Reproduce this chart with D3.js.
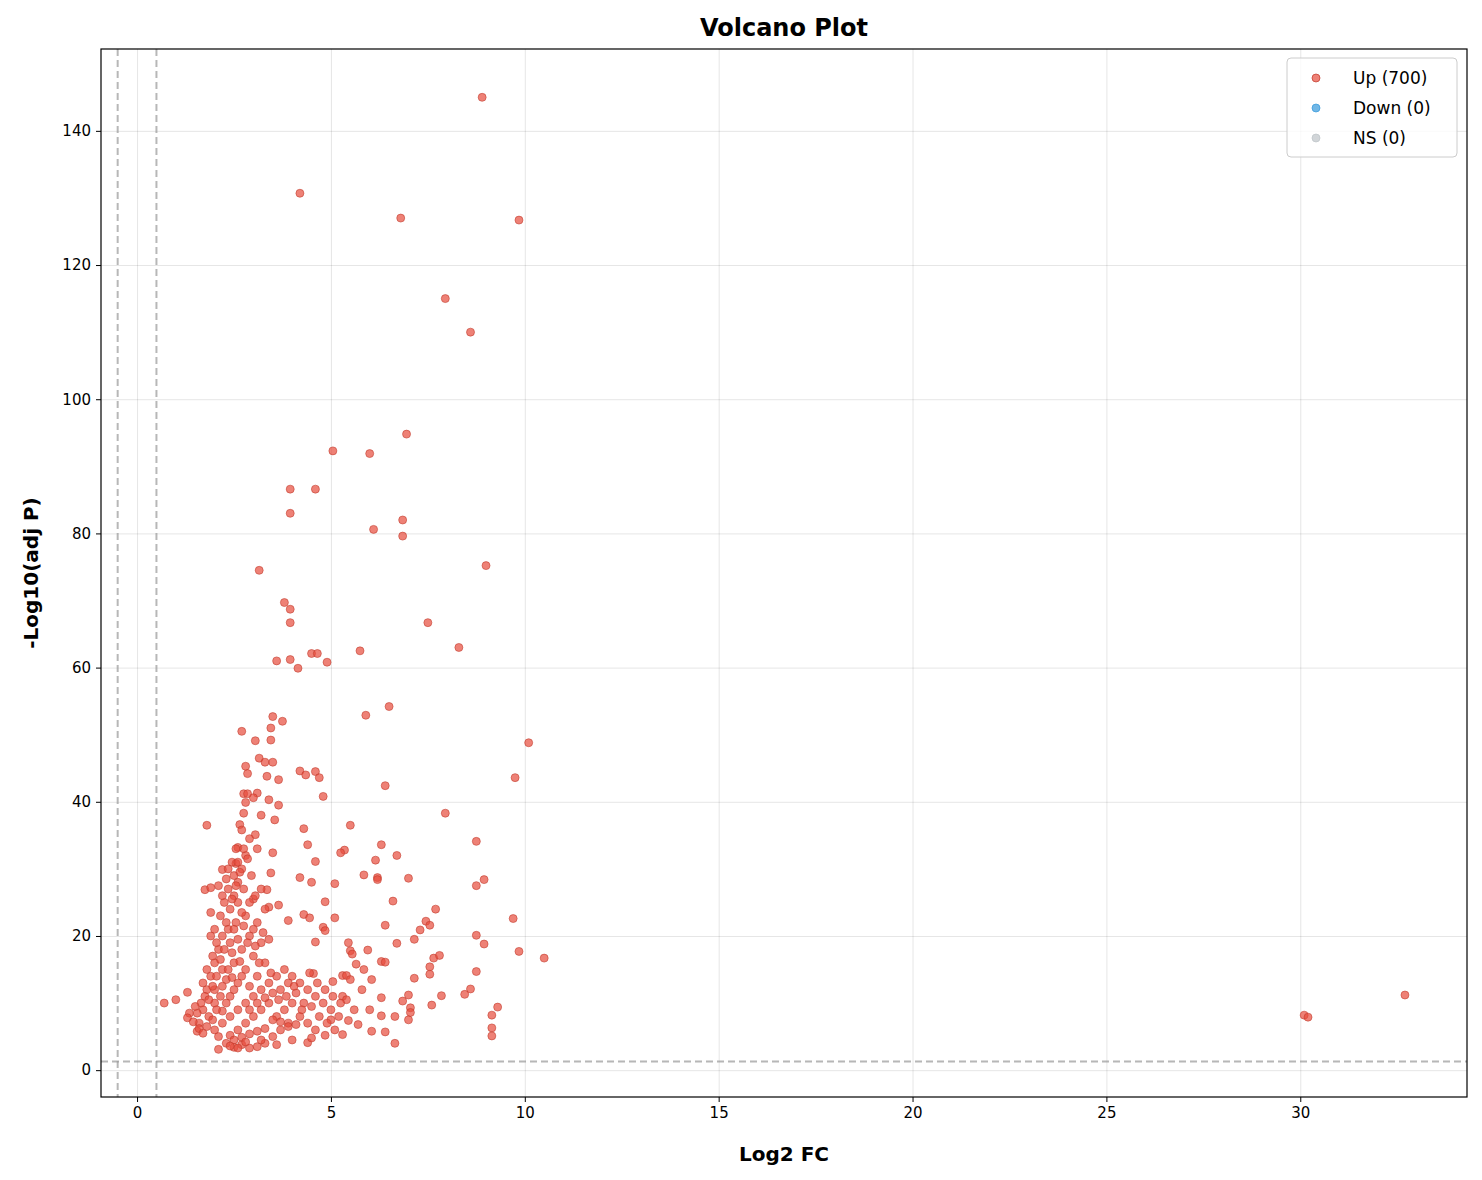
<!DOCTYPE html>
<html>
<head>
<meta charset="utf-8">
<script src="https://cdn.jsdelivr.net/npm/d3@7"></script>
<style>
  body { margin: 0; background: #fff; font-family: "DejaVu Sans", sans-serif; }
</style>
</head>
<body>
<svg id="chart" width="1482" height="1180"></svg>
<script>
// Up-regulated points: [log2FC, -log10(adj P)]
const upPoints = [
  [8.9,145],[4.2,130.7],[6.8,127],[9.85,126.7],[7.95,115],[8.6,110],[6.95,94.8],[5.05,92.3],[6.0,91.9],
  [3.95,86.6],[4.6,86.6],[3.95,83],[6.85,82],[6.1,80.6],[6.85,79.6],[9.0,75.2],[3.15,74.5],[3.8,69.7],
  [3.95,68.7],[3.95,66.7],[7.5,66.7],[8.3,63],[5.75,62.5],[4.5,62.1],[4.65,62.1],[3.6,61],[3.95,61.2],
  [4.9,60.8],[4.15,59.9],[6.5,54.2],[5.9,52.9],[3.5,52.7],[3.75,52],[3.45,51],[2.7,50.5],[3.05,49.1],
  [3.45,49.2],[10.1,48.8],[3.15,46.5],[3.3,45.9],[3.5,45.9],[2.8,45.3],[4.2,44.6],[4.6,44.5],[4.35,44],
  [2.85,44.2],[3.35,43.8],[4.7,43.6],[9.75,43.6],[3.65,43.3],[6.4,42.4],[2.75,41.2],[2.85,41.2],[3.1,41.3],
  [4.8,40.8],[3.0,40.6],[3.4,40.3],[2.8,39.9],[3.65,39.5],[2.75,38.3],[7.95,38.3],[3.2,38],[3.55,37.3],
  [1.8,36.5],[5.5,36.5],[2.65,36.6],[2.7,35.8],[4.3,36],[3.05,35.1],[2.9,34.5],[8.75,34.1],[4.4,33.6],
  [6.3,33.6],[2.6,33.2],[3.1,33],[5.35,32.8],[5.25,32.4],[3.5,32.4],[6.7,32],[6.15,31.3],[4.6,31.1],
  [2.55,30.8],[2.2,29.9],[5.85,29.1],[3.45,29.4],[6.2,28.7],[6.2,28.4],[7.0,28.6],[8.95,28.4],[4.2,28.7],
  [4.5,28],[5.1,27.8],[8.75,27.5],[1.75,26.9],[1.9,27.2],[3.35,26.9],[4.85,25.1],[6.6,25.2],[3.0,25.5],
  [7.7,24],[3.65,24.6],[3.4,24.3],[4.3,23.2],[9.7,22.6],[5.1,22.7],[4.45,22.7],[7.45,22.2],[3.9,22.3],
  [7.55,21.6],[6.4,21.6],[7.3,20.9],[4.8,21.3],[4.85,20.8],[8.75,20.1],[4.6,19.1],[5.45,19],[7.15,19.5],
  [6.7,18.9],[8.95,18.8],[5.5,17.8],[5.95,17.9],[9.85,17.7],[10.5,16.7],[5.55,17.3],[7.65,16.7],[7.8,17.1],
  [6.3,16.2],[6.4,16.1],[5.65,15.8],[7.55,15.4],[5.85,15],[8.75,14.7],[7.55,14.3],[4.55,14.4],[5.3,14.1],
  [5.4,14.1],[7.15,13.7],[6.05,13.5],[5.05,13.2],[8.6,12.1],[8.45,11.3],[7.85,11.1],[7.0,11.2],[6.3,10.8],
  [5.3,11],[6.85,10.3],[9.3,9.4],[7.6,9.7],[7.05,9.3],[7.05,8.6],[9.15,8.2],[6.3,8.1],[6.65,8],[7.0,7.5],
  [5.0,7.5],[5.45,7.4],[9.15,6.3],[6.05,5.8],[6.4,5.7],[4.85,5.2],[9.15,5.1],[5.3,5.3],[6.65,4.0],[4.4,4.1],
  [30.1,8.2],[30.2,7.9],[32.7,11.2],[0.7,10],[1.0,10.5],[1.3,11.6],[1.35,8.5],[1.3,7.8],[1.55,5.8],[2.1,3.1],
  [1.6,7],[1.7,9],[1.8,12],[1.9,14],[2.0,16],[1.75,11],[1.85,8],[2.0,10],[2.1,18],[2.2,20],[2.3,22],[2.4,24],
  [2.5,26],[2.6,28],[2.7,30],[2.8,32],[2.45,31],[2.55,33],[2.35,27],[2.25,25],[2.15,23],[2.05,19],[1.95,17],
  [1.9,20],[1.8,15],[1.7,13],[1.65,10],[1.55,8.5],[1.6,6.2],[1.7,5.5],[2.0,6],[2.2,7],[2.4,8],[2.6,9],[2.8,10],
  [3.0,11],[3.2,12],[3.4,13],[3.6,14],[3.8,15],[4.0,14],[4.2,13],[4.4,12],[4.6,11],[4.8,10],[5.0,9],[5.2,8],
  [3.9,7],[3.7,6],[3.5,5],[3.3,4],[3.1,3.5],[2.9,3.3],[2.7,3.8],[2.5,3.4],[2.3,4],[2.4,5.2],[2.6,6],[2.8,7],
  [3.0,8],[3.2,9],[3.4,10],[3.6,8],[3.8,9],[4.0,10],[4.2,8],[4.4,7],[4.6,6],[3.5,7.5],[3.7,7.2],[3.9,6.5],
  [4.1,6.8],[3.3,6.2],[3.1,5.8],[2.9,5.4],[2.7,4.9],[2.5,4.5],[2.2,8.8],[2.4,11],[2.6,13],[2.8,15],[3.0,17],
  [3.2,19],[3.4,19.5],[3.0,21],[2.8,23],[2.6,25],[2.4,19],[2.2,15],[2.0,12],[2.3,13.5],[2.5,16],[2.7,18],
  [2.9,20],[3.1,22],[2.75,27],[2.65,29.5],[2.55,22],[2.45,17.5],[2.35,15],[2.15,11],[2.05,9],[1.95,7.5],
  [1.85,10.5],[2.3,10],[2.5,12],[2.7,14],[2.9,12.5],[3.1,14],[3.3,16],[3.5,11.5],[3.7,12],[3.9,13],[4.1,11.5],
  [4.3,10],[4.5,9.5],[4.7,8],[4.9,7],[5.1,6],[5.4,10.5],[5.6,9],[5.8,12],[6.0,9],[5.7,6.8],[5.5,13.5],[4.0,4.5],
  [4.5,4.8],[3.6,3.8],[3.2,4.5],[2.8,4.2],[2.6,3.3],[2.4,3.6],[2.9,9],[3.1,10],[3.3,10.8],[3.05,26],[2.95,29],
  [2.85,31.5],[2.55,27.5],[2.35,21],[2.25,18],[2.15,16.5],[2.05,14],[1.95,12.5],[2.45,13.8],[2.65,16.2],
  [2.85,19],[3.05,18.5],[3.25,20.5],[3.3,24],[2.3,28.5],[2.0,21],[1.9,23.5],[2.75,21.5],[3.15,16],[3.45,14.5],
  [3.65,10.5],[3.85,11],[4.05,12.5],[4.25,9],[4.45,14.5],[4.65,13],[4.85,12],[5.05,11],[5.25,10],[1.5,9.5],
  [1.45,7.2],[1.8,6.5],[2.1,5],[2.2,12.5],[2.6,19.5],[2.5,21],[2.7,23.5],[2.9,25],[3.2,27],[2.45,25.5],
  [2.35,30],[2.6,31],[2.75,33],[2.5,29],[2.2,26],[2.1,27.5]
];
const downPoints = [];
const nsPoints = [];
const legendLabels = ["Up (700)", "Down (0)", "NS (0)"];
const xTicks = [0, 5, 10, 15, 20, 25, 30];
const yTicks = [0, 20, 40, 60, 80, 100, 120, 140];
const fcCut = 0.5;
const pCut = 1.3;

const svg = d3.select("#chart");
const margin = { top: 49, right: 15, bottom: 83, left: 101 };
const width = 1482, height = 1180;

const x = d3.scaleLinear().domain([-0.93, 34.3]).range([margin.left, width - margin.right]);
const y = d3.scaleLinear().domain([-4.0, 152.2]).range([height - margin.bottom, margin.top]);

// Grid
svg.append("g")
  .attr("transform", `translate(0, ${height - margin.bottom})`)
  .call(d3.axisBottom(x).tickValues(xTicks).tickSize(-(height - margin.top - margin.bottom)).tickFormat(""))
  .call(g => g.select(".domain").remove())
  .selectAll("line").attr("stroke", "#000").attr("stroke-opacity", 0.1);

svg.append("g")
  .attr("transform", `translate(${margin.left}, 0)`)
  .call(d3.axisLeft(y).tickValues(yTicks).tickSize(-(width - margin.left - margin.right)).tickFormat(""))
  .call(g => g.select(".domain").remove())
  .selectAll("line").attr("stroke", "#000").attr("stroke-opacity", 0.1);

// Threshold lines
const thr = svg.append("g").attr("stroke", "#999").attr("stroke-opacity", 0.7)
  .attr("stroke-width", 2).attr("stroke-dasharray", "7,4");
[-fcCut, fcCut].forEach(v => thr.append("line")
  .attr("x1", x(v)).attr("x2", x(v)).attr("y1", margin.top).attr("y2", height - margin.bottom));
thr.append("line").attr("x1", margin.left).attr("x2", width - margin.right)
  .attr("y1", y(pCut)).attr("y2", y(pCut));

// Points
const series = [
  { data: upPoints, color: "#e74c3c" },
  { data: downPoints, color: "#3498db" },
  { data: nsPoints, color: "#bdc3c7" }
];
series.forEach(s => {
  svg.append("g").selectAll("circle")
    .data(s.data).enter().append("circle")
    .attr("cx", d => x(d[0]))
    .attr("cy", d => y(d[1]))
    .attr("r", 4)
    .attr("fill", s.color)
    .attr("fill-opacity", 0.7)
    .attr("stroke", "#c0392b")
    .attr("stroke-opacity", 0.7)
    .attr("stroke-width", 0.8);
});

// Axes
const xAxis = svg.append("g")
  .attr("transform", `translate(0, ${height - margin.bottom})`)
  .call(d3.axisBottom(x).tickValues(xTicks).tickSize(5).tickPadding(5));
const yAxis = svg.append("g")
  .attr("transform", `translate(${margin.left}, 0)`)
  .call(d3.axisLeft(y).tickValues(yTicks).tickSize(5).tickPadding(5));
[xAxis, yAxis].forEach(a => {
  a.selectAll("text").style("font-size", "15px").style("font-family", "DejaVu Sans").attr("fill", "#000");
  a.select(".domain").remove();
});

// Frame
svg.append("rect")
  .attr("x", margin.left).attr("y", margin.top)
  .attr("width", width - margin.left - margin.right)
  .attr("height", height - margin.top - margin.bottom)
  .attr("fill", "none").attr("stroke", "#000").attr("stroke-width", 1.2);

// Titles
svg.append("text").attr("x", (margin.left + width - margin.right) / 2).attr("y", 36)
  .attr("text-anchor", "middle").style("font-size", "24px").style("font-weight", "bold").text("Volcano Plot");
svg.append("text").attr("x", (margin.left + width - margin.right) / 2).attr("y", 1161)
  .attr("text-anchor", "middle").style("font-size", "20px").style("font-weight", "bold").text("Log2 FC");
svg.append("text").attr("transform", "rotate(-90)")
  .attr("x", -(margin.top + height - margin.bottom) / 2).attr("y", 38)
  .attr("text-anchor", "middle").style("font-size", "20px").style("font-weight", "bold").text("-Log10(adj P)");

// Legend
const legend = svg.append("g").attr("transform", `translate(1287, 58)`);
legend.append("rect").attr("width", 170).attr("height", 99).attr("rx", 4)
  .attr("fill", "#fff").attr("fill-opacity", 0.8).attr("stroke", "#ccc");
legendLabels.forEach((label, i) => {
  const s = series[i];
  legend.append("circle").attr("cx", 29).attr("cy", 20 + i * 30).attr("r", 4)
    .attr("fill", s.color).attr("fill-opacity", 0.7)
    .attr("stroke", i === 0 ? "#c0392b" : s.color).attr("stroke-opacity", 0.7);
  legend.append("text").attr("x", 66).attr("y", 26 + i * 30)
    .style("font-size", "17px").text(label);
});
</script>
</body>
</html>
